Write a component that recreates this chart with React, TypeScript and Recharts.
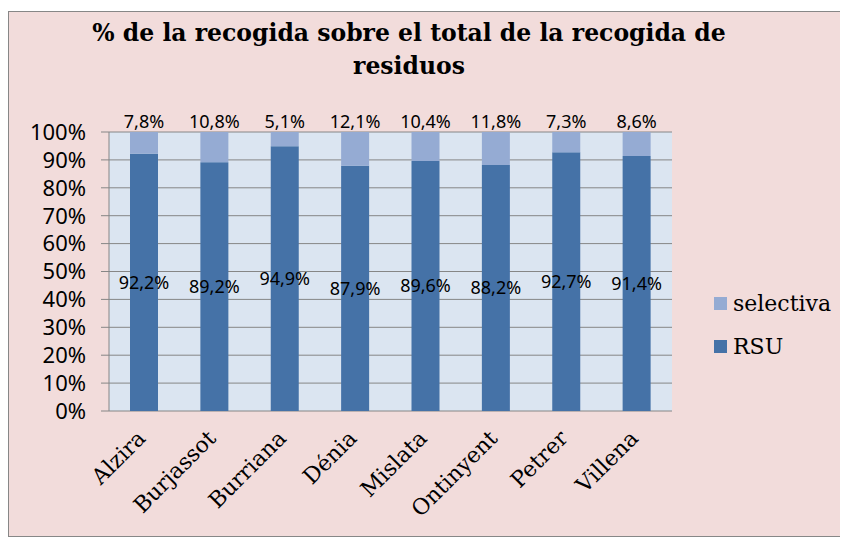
import React from 'react'
import { BarChart, Bar, XAxis, YAxis, CartesianGrid, LabelList } from 'recharts'

const cities = ['Alzira', 'Burjassot', 'Burriana', 'Dénia', 'Mislata', 'Ontinyent', 'Petrer', 'Villena']
const rsu = [92.2, 89.2, 94.9, 87.9, 89.6, 88.2, 92.7, 91.4]
const selectiva = [7.8, 10.8, 5.1, 12.1, 10.4, 11.8, 7.3, 8.6]
const yTicks = [0, 10, 20, 30, 40, 50, 60, 70, 80, 90, 100]
const edgeTicks = [0, 1, 2, 3, 4, 5, 6, 7, 8]

const RSU_COLOR = '#4572a7'
const SEL_COLOR = '#95abd3'
const AXIS_GRAY = '#868686'
const SANS = '"Noto Sans", sans-serif'
const SERIF = '"DejaVu Serif", serif'

const data = cities.map((name, i) => ({ name, rsu: rsu[i], selectiva: selectiva[i] }))

function pct(v: any) {
  return Number(v).toFixed(1).replace('.', ',') + '%'
}

function CityTick(props: any) {
  const { x, y, payload } = props
  const ax = x - 9
  const ay = y + 9
  return (
    <text
      x={ax}
      y={ay}
      transform={`rotate(-45, ${ax}, ${ay})`}
      textAnchor="end"
      dy="0.75em"
      fontFamily={SERIF}
      fontSize={22}
      fill="#000"
    >
      {payload.value}
    </text>
  )
}

export default function App() {
  return (
    <div style={{ paddingTop: 3 }}>
      <div
        style={{
          position: 'relative',
          width: 836,
          height: 524,
          border: '1px solid #878787',
          background: '#f2dcdb',
        }}
      >
        <div
          style={{
            position: 'absolute',
            left: 0,
            top: 5,
            width: 800,
            textAlign: 'center',
            fontFamily: SERIF,
            fontWeight: 'bold',
            fontSize: 23.5,
            lineHeight: '33px',
            whiteSpace: 'nowrap',
            color: '#000',
          }}
        >
          % de la recogida sobre el total de la recogida de
          <br />
          residuos
        </div>
        <BarChart
          width={836}
          height={524}
          data={data}
          margin={{ top: 120, right: 173, bottom: 25, left: 0 }}
          barSize={28}
        >
          <CartesianGrid vertical={false} stroke={AXIS_GRAY} fill="#dbe5f1" fillOpacity={1} />
          <XAxis
            xAxisId="edges"
            type="number"
            domain={[0, 8]}
            ticks={edgeTicks}
            interval={0}
            tick={() => <g />}
            height={0}
            tickSize={6}
            stroke={AXIS_GRAY}
            strokeWidth={2}
          />
          <XAxis
            dataKey="name"
            height={100}
            axisLine={false}
            tickLine={false}
            interval={0}
            tick={<CityTick />}
          />
          <YAxis
            width={100}
            domain={[0, 100]}
            ticks={yTicks}
            interval={0}
            tickFormatter={(v: number) => v + '%'}
            tickSize={8}
            tickMargin={15}
            stroke={AXIS_GRAY}
            tick={{ fill: '#000', fontFamily: SANS, fontSize: 22 }}
          />
          <Bar dataKey="rsu" stackId="a" fill={RSU_COLOR} isAnimationActive={false}>
            <LabelList
              dataKey="rsu"
              position="center"
              formatter={pct}
              fill="#000"
              fontFamily={SANS}
              fontSize={18}
            />
          </Bar>
          <Bar dataKey="selectiva" stackId="a" fill={SEL_COLOR} isAnimationActive={false}>
            <LabelList
              dataKey="selectiva"
              position="top"
              offset={4}
              formatter={pct}
              fill="#000"
              fontFamily={SANS}
              fontSize={18}
            />
          </Bar>
        </BarChart>
        <div style={{ position: 'absolute', left: 705, top: 270, fontFamily: SERIF, fontSize: 22, color: '#000' }}>
          {[
            { label: 'selectiva', color: SEL_COLOR },
            { label: 'RSU', color: RSU_COLOR },
          ].map((it) => (
            <div key={it.label} style={{ display: 'flex', alignItems: 'center', height: 43 }}>
              <span style={{ width: 13, height: 13, background: it.color, marginRight: 6 }} />
              <span>{it.label}</span>
            </div>
          ))}
        </div>
      </div>
    </div>
  )
}
